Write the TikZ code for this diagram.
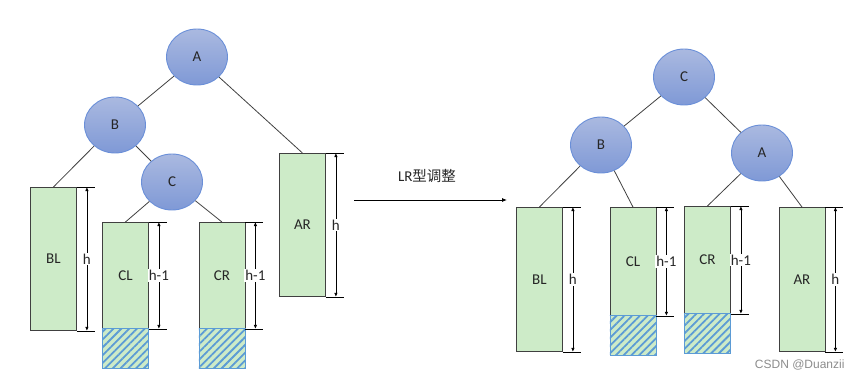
\documentclass[tikz,border=0pt]{standalone}
\usepackage{fontspec}
\setmainfont{Carlito}
\newfontfamily\cjk{Noto Sans CJK SC}
\newfontfamily\wmfont{Liberation Sans}
\usetikzlibrary{shapes.geometric,arrows.meta,patterns.meta}
\definecolor{nodeTop}{HTML}{AAB9E0}
\definecolor{nodeBot}{HTML}{7F99D6}
\definecolor{nodeLine}{HTML}{6A8FD8}
\definecolor{boxFill}{HTML}{CDEBC8}
\definecolor{boxLine}{HTML}{404040}
\definecolor{hatchBlue}{HTML}{5B9BD5}
\definecolor{edgeCol}{HTML}{404040}
\tikzset{
  x=1pt, y=-1pt,
  every node/.style={font=\fontsize{15pt}{18pt}\selectfont, text=black!85},
  tnode/.style={ellipse, draw=nodeLine, line width=0.9pt, top color=nodeTop, bottom color=nodeBot,
    minimum width=61pt, minimum height=56pt, inner sep=0pt},
  subtree/.style={rectangle, draw=boxLine, line width=0.9pt, fill=boxFill, minimum width=46pt,
    inner sep=0pt, anchor=north west},
  hatchbox/.style={rectangle, draw=hatchBlue, line width=0.9pt, inner sep=0pt, anchor=north west,
    minimum width=46pt, minimum height=40pt, preaction={fill=boxFill},
    pattern={Lines[angle=45,distance=5.5pt,line width=1.8pt]}, pattern color=hatchBlue},
  edge/.style={draw=edgeCol, line width=0.8pt},
  ext/.style={draw=black, line width=0.8pt},
  dim/.style={draw=black, line width=0.8pt, {Latex[length=4pt,width=3.5pt]}-{Latex[length=4pt,width=3.5pt]}},
  dimlbl/.style={fill=white, inner sep=1pt}
}
\newcommand{\dimmark}[2]{%
  \draw[ext] (#1.north east) -- ++(18,0);
  \draw[ext] (#1.south east) -- ++(18,0);
  \draw[dim] ([xshift=10pt]#1.north east) -- node[dimlbl]{#2} ([xshift=10pt]#1.south east);
}
\begin{document}
\begin{tikzpicture}
\useasboundingbox (0,0) rectangle (862,380);
% ---------- left tree ----------
\node[tnode] (A) at (197,57) {A};
\node[tnode] (B) at (115,125) {B};
\node[tnode] (C) at (172,182) {C};
\node[subtree, minimum height=143pt] (BL) at (30,187) {BL};
\node[subtree, minimum height=106pt] (CL) at (102,222) {CL};
\node[hatchbox] (CLh) at (102,328) {};
\node[subtree, minimum height=106pt] (CR) at (198.5,222) {CR};
\node[hatchbox] (CRh) at (198.5,328) {};
\node[subtree, minimum height=143pt] (AR) at (279,153) {AR};
\draw[edge] (A) -- (B);
\draw[edge] (A) -- (AR.north);
\draw[edge] (B) -- (BL.north);
\draw[edge] (B) -- (C);
\draw[edge] (C) -- (CL.north);
\draw[edge] (C) -- (CR.north);
\dimmark{BL}{h}
\dimmark{CL}{h-1}
\dimmark{CR}{h-1}
\dimmark{AR}{h}
% ---------- arrow ----------
\coordinate (arrS) at (354,200);
\coordinate (arrE) at (507,200);
\draw[line width=0.8pt, -{Latex[length=5pt,width=4pt]}] (arrS) -- (arrE);
\node (lbl) at (427,176) {LR{\cjk\fontsize{14.5pt}{18pt}\selectfont 型调整}};
% ---------- right tree ----------
\node[tnode] (C2) at (684,77) {C};
\node[tnode] (B2) at (601,145) {B};
\node[tnode] (A2) at (762,153) {A};
\node[subtree, minimum height=144pt] (BL2) at (516,207) {BL};
\node[subtree, minimum height=108pt] (CL2) at (609.5,207) {CL};
\node[hatchbox] (CL2h) at (609.5,315) {};
\node[subtree, minimum height=107pt] (CR2) at (684,206) {CR};
\node[hatchbox] (CR2h) at (684,313) {};
\node[subtree, minimum height=144pt] (AR2) at (778.5,207) {AR};
\draw[edge] (C2) -- (B2);
\draw[edge] (C2) -- (A2);
\draw[edge] (B2) -- (BL2.north);
\draw[edge] (B2) -- (CL2.north);
\draw[edge] (A2) -- (CR2.north);
\draw[edge] (A2) -- (AR2.north);
\dimmark{BL2}{h}
\dimmark{CL2}{h-1}
\dimmark{CR2}{h-1}
\dimmark{AR2}{h}
% ---------- watermark ----------
\node[font=\wmfont\fontsize{12pt}{14pt}\selectfont, text=black!45, anchor=east] (wm) at (848,365) {CSDN @Duanzii};
\end{tikzpicture}
\end{document}
